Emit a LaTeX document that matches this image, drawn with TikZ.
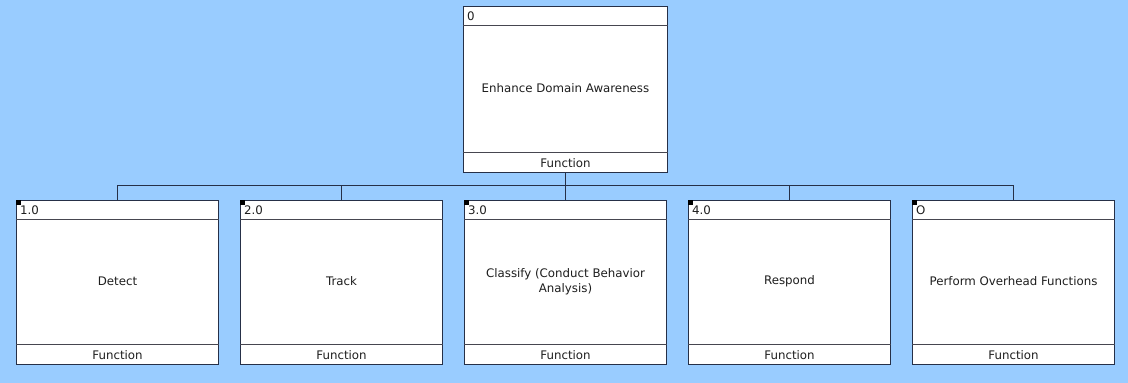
\documentclass[tikz,border=0pt]{standalone}
\usepackage{fontspec}
\setmainfont{DejaVu Sans}
\usetikzlibrary{calc}
\definecolor{bgc}{RGB}{153,204,255}
\definecolor{linec}{RGB}{38,48,72}
\definecolor{sepc}{RGB}{70,70,80}
\definecolor{txtc}{RGB}{30,30,30}
\tikzset{
  boxframe/.style={draw=linec, fill=white, line width=1pt, inner sep=0pt, anchor=north west},
  sepline/.style={draw=sepc, line width=1pt},
  conn/.style={draw=linec, line width=1pt},
  lbl/.style={font=\fontsize{11.8}{14.5}\selectfont, text=txtc, align=center, inner sep=0pt},
  foot/.style={font=\fontsize{11.8}{13}\selectfont, text=txtc, inner sep=0pt},
  hdr/.style={font=\fontsize{11.8}{13}\selectfont, text=txtc, inner sep=0pt, anchor=west},
  marker/.style={fill=black},
}
\newcommand\funcbox[8]{%
  % #1 name, #2 x, #3 y, #4 width, #5 height, #6 header, #7 label, #8 marker(1/0)
  \node[boxframe, minimum width=#4pt, minimum height=#5pt] (#1) at (#2,#3) {};
  \draw[sepline] ([yshift=-19pt]#1.north west) -- ([yshift=-19pt]#1.north east);
  \draw[sepline] ([yshift=21pt]#1.south west) -- ([yshift=21pt]#1.south east);
  \node[lbl] (#1-lbl) at ([yshift=1pt]#1.center) {#7};
  \node[foot] (#1-foot) at ([yshift=10pt]#1.south) {Function};
  \node[hdr] (#1-hdr) at ([xshift=4pt,yshift=-10pt]#1.north west) {#6};
  \ifnum#8=1 \fill[marker] (#1.north west) rectangle ++(5,5);\fi
}
\begin{document}
\begin{tikzpicture}[x=1pt,y=-1pt]
\fill[bgc] (0,0) rectangle (1128,383);
\useasboundingbox (0,0) rectangle (1128,383);
\funcbox{root}{463}{6}{204}{166}{0}{Enhance Domain Awareness}{0}
\funcbox{b1}{16}{200}{202}{164}{1.0}{Detect}{1}
\funcbox{b2}{240}{200}{202}{164}{2.0}{Track}{1}
\funcbox{b3}{464}{200}{202}{164}{3.0}{Classify (Conduct Behavior\\Analysis)}{1}
\funcbox{b4}{688}{200}{202}{164}{4.0}{Respond}{1}
\funcbox{b5}{912}{200}{202}{164}{O}{Perform Overhead Functions}{1}
\coordinate (bus) at (0,185);
\draw[conn] (root.south) -- (root.south |- bus);
\draw[conn] (b1.north |- bus) -- (b5.north |- bus);
\foreach \b in {b1,b2,b3,b4,b5}{
  \draw[conn] (\b.north |- bus) -- (\b.north);
}
\end{tikzpicture}
\end{document}
